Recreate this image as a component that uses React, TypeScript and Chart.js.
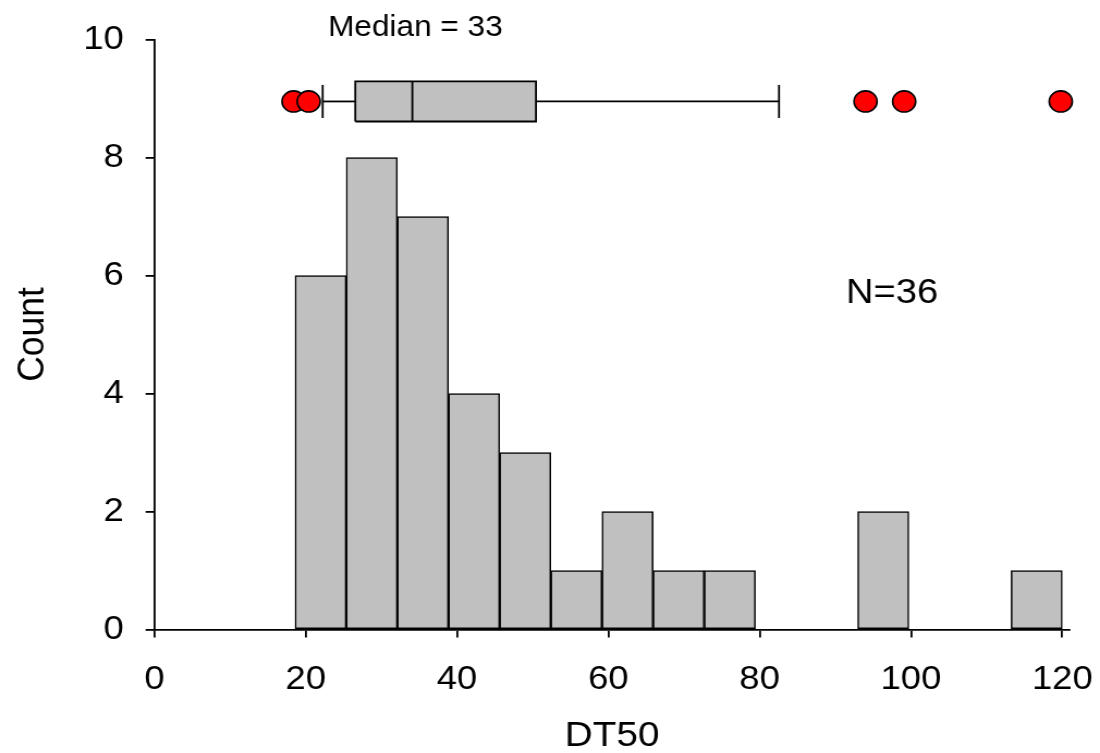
import { useEffect, useRef } from "react";
import { Chart, registerables } from "chart.js";

Chart.register(...registerables);

// ---- data ----
const binStarts = [18.6, 25.36, 32.12, 38.88, 45.64, 52.4, 59.16, 65.92, 72.68, 79.44, 86.2, 92.96, 99.72, 106.48, 113.24];
const binWidth = 6.76;
const counts = [6, 8, 7, 4, 3, 1, 2, 1, 1, 0, 0, 2, 0, 0, 1];

const whiskerLow = 22.25;
const quartile1 = 26.56;
const medianValue = 34.1;
const quartile3 = 50.44;
const whiskerHigh = 82.56;
const outliers = [18.4, 20.4, 94.0, 99.1, 119.8];

const xTicks = [0, 20, 40, 60, 80, 100, 120];
const yTicks = [0, 2, 4, 6, 8, 10];

const medianLabel = "Median = 33";
const nLabel = "N=36";
const xTitle = "DT50";
const yTitle = "Count";

// ---- layout constants (positions in data units) ----
const boxRowY = 8.95;
const boxHalf = 0.34;
const capHalf = 0.28;
const medianLabelPos = [34.5, 10.065];
const nLabelPos = [97.5, 5.53];

// the reference is drawn slightly wider than tall; render narrower and stretch
const RENDER_W = 1010;
const VIEW_W = 1100;
const VIEW_H = 753;

const FONT = '"Liberation Sans", Arial, Helvetica, sans-serif';

export default function App() {
  const ref = useRef<HTMLCanvasElement | null>(null);

  useEffect(() => {
    document.body.style.margin = "0";
    const canvas = ref.current;
    if (!canvas) return;

    const histData = binStarts.map((s, i) => ({ x: s + binWidth / 2, y: counts[i] }));
    const lineStyle = {
      type: "line" as const,
      borderColor: "#000",
      borderWidth: 1.8,
      pointRadius: 0,
      fill: false,
      tension: 0,
      clip: false as const,
    };

    const annotate = {
      id: "annotate",
      afterDatasetsDraw(chart: any) {
        const { ctx, scales } = chart;
        const x = scales.x;
        const y = scales.y;
        ctx.save();
        ctx.fillStyle = "#000";
        ctx.textAlign = "center";
        ctx.textBaseline = "alphabetic";
        ctx.font = `29px ${FONT}`;
        ctx.fillText(medianLabel, x.getPixelForValue(medianLabelPos[0]), y.getPixelForValue(medianLabelPos[1]));
        ctx.font = `35px ${FONT}`;
        ctx.fillText(nLabel, x.getPixelForValue(nLabelPos[0]), y.getPixelForValue(nLabelPos[1]));
        ctx.restore();
      },
    };

    const axisGrid = {
      display: true,
      drawOnChartArea: false,
      drawTicks: true,
      tickLength: 8,
      color: "#000",
      lineWidth: 1.8,
      offset: false,
    };

    const chart = new Chart(canvas, {
      type: "bar",
      data: {
        datasets: [
          {
            type: "scatter" as any,
            data: outliers.map((v) => ({ x: v, y: boxRowY })),
            backgroundColor: "#ff0000",
            borderColor: "#000",
            borderWidth: 1.6,
            pointRadius: 10.6,
            clip: false,
          } as any,
          {
            ...lineStyle,
            data: [
              { x: medianValue, y: boxRowY - boxHalf },
              { x: medianValue, y: boxRowY + boxHalf },
            ],
          } as any,
          {
            ...lineStyle,
            fill: "shape",
            backgroundColor: "#c0c0c0",
            data: [
              { x: quartile1, y: boxRowY - boxHalf },
              { x: quartile1, y: boxRowY + boxHalf },
              { x: quartile3, y: boxRowY + boxHalf },
              { x: quartile3, y: boxRowY - boxHalf },
              { x: quartile1, y: boxRowY - boxHalf },
            ],
          } as any,
          {
            ...lineStyle,
            data: [
              { x: whiskerLow, y: boxRowY },
              { x: quartile1, y: boxRowY },
            ],
          } as any,
          {
            ...lineStyle,
            data: [
              { x: quartile3, y: boxRowY },
              { x: whiskerHigh, y: boxRowY },
            ],
          } as any,
          {
            ...lineStyle,
            data: [
              { x: whiskerLow, y: boxRowY - capHalf },
              { x: whiskerLow, y: boxRowY + capHalf },
            ],
          } as any,
          {
            ...lineStyle,
            data: [
              { x: whiskerHigh, y: boxRowY - capHalf },
              { x: whiskerHigh, y: boxRowY + capHalf },
            ],
          } as any,
          {
            type: "bar",
            data: histData as any,
            backgroundColor: "#c0c0c0",
            borderColor: "#000",
            borderWidth: 1.5,
            borderSkipped: false,
            barPercentage: 1,
            categoryPercentage: 1,
          } as any,
        ],
      },
      options: {
        responsive: false,
        animation: false,
        devicePixelRatio: 1,
        layout: { padding: { left: 0, right: 27.7, top: 39.5, bottom: 0 } },
        plugins: {
          legend: { display: false },
          tooltip: { enabled: false },
        },
        scales: {
          x: {
            type: "linear",
            min: 0,
            max: 121,
            offset: false,
            afterBuildTicks: (s: any) => {
              s.ticks = xTicks.map((v) => ({ value: v }));
            },
            afterFit: (s: any) => {
              s.height = 123.5;
              s.paddingLeft = 0;
              s.paddingRight = 0;
              s.paddingTop = 0;
              s.paddingBottom = 0;
            },
            ticks: {
              color: "#000",
              font: { family: FONT, size: 33.5 },
              padding: 22,
              maxRotation: 0,
              autoSkip: false,
            },
            grid: axisGrid,
            border: { display: true, color: "#000", width: 1.8 },
            title: {
              display: true,
              text: xTitle,
              color: "#000",
              font: { family: FONT, size: 35.5 },
              padding: { top: 0, bottom: -4.5 },
            },
          },
          y: {
            type: "linear",
            min: 0,
            max: 10,
            afterBuildTicks: (s: any) => {
              s.ticks = yTicks.map((v) => ({ value: v }));
            },
            afterFit: (s: any) => {
              s.width = 141.7;
              s.paddingLeft = 0;
              s.paddingRight = 0;
              s.paddingTop = 0;
              s.paddingBottom = 0;
            },
            ticks: {
              color: "#000",
              font: { family: FONT, size: 33.5 },
              padding: 20,
              autoSkip: false,
            },
            grid: axisGrid,
            border: { display: true, color: "#000", width: 1.8 },
            title: {
              display: true,
              text: yTitle,
              color: "#000",
              font: { family: FONT, size: 35.5 },
              padding: { top: 9, bottom: 0 },
            },
          },
        },
      },
      plugins: [annotate],
    });

    return () => chart.destroy();
  }, []);

  return (
    <div style={{ width: VIEW_W, height: VIEW_H }}>
      <canvas
        ref={ref}
        width={RENDER_W}
        height={VIEW_H}
        style={{ display: "block", width: VIEW_W, height: VIEW_H }}
      />
    </div>
  );
}
